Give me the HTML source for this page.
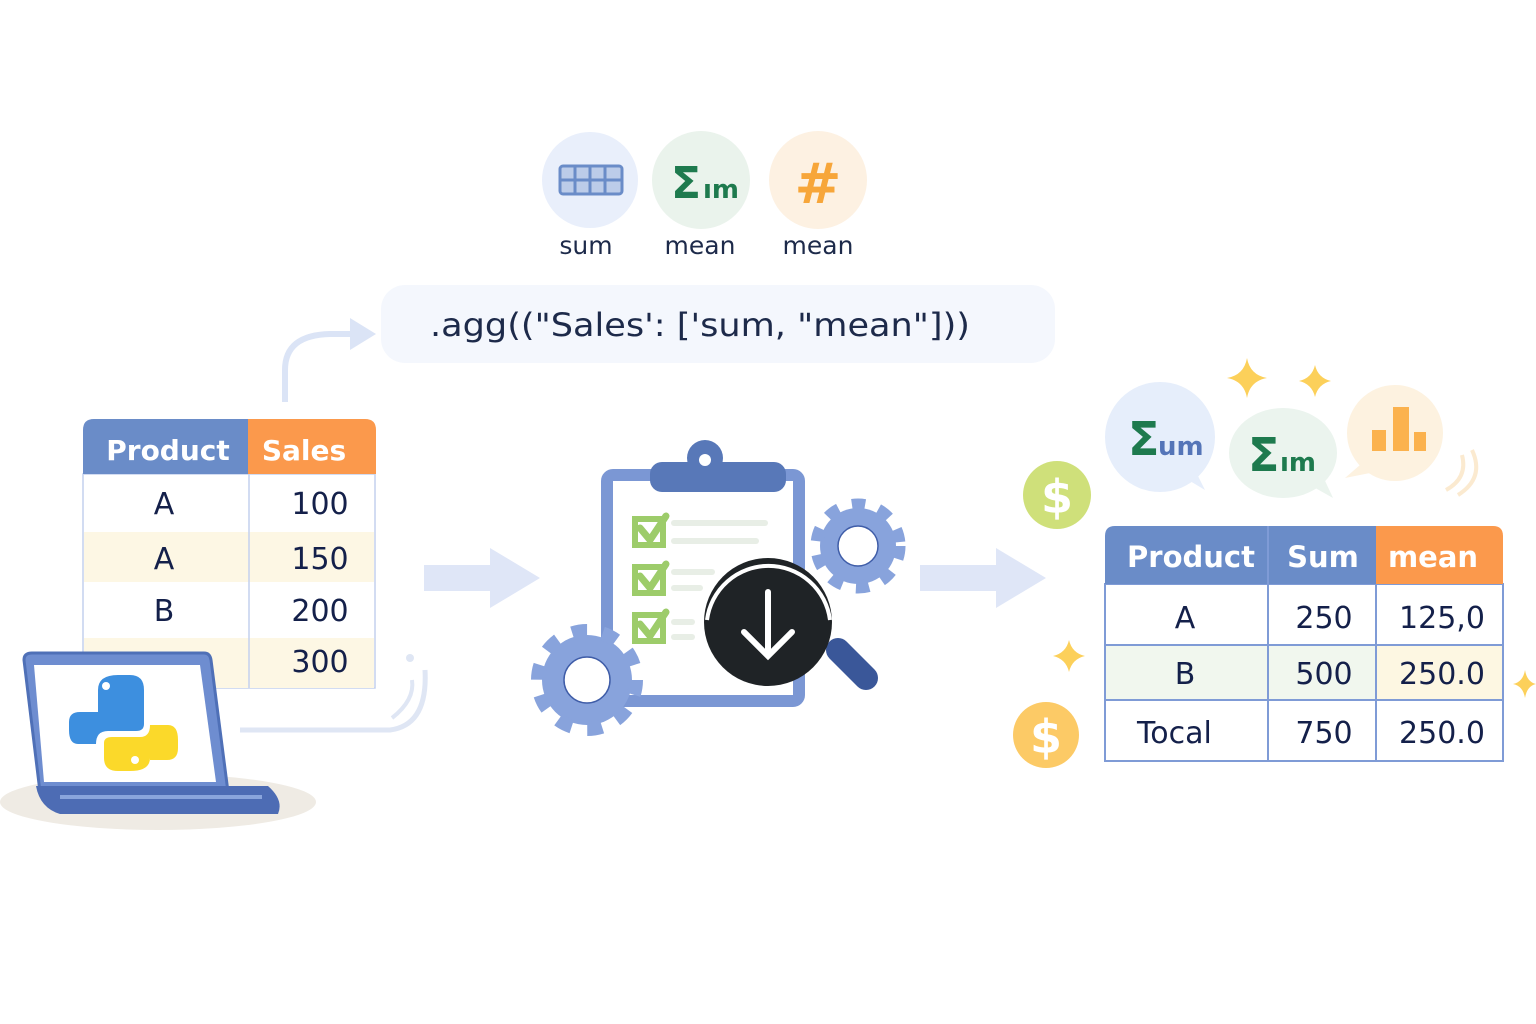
<!DOCTYPE html>
<html><head><meta charset="utf-8"><style>
html,body{margin:0;padding:0;background:#fff;}
svg{display:block;}
text{font-family:"DejaVu Sans","Liberation Sans",sans-serif;}
</style></head><body>
<svg width="1536" height="1024" viewBox="0 0 1536 1024" xmlns="http://www.w3.org/2000/svg">
<!-- top icons -->
<circle cx="590" cy="180" r="48" fill="#e9effb"/>
<rect x="560" y="166" width="62" height="28" rx="3" fill="none" stroke="#6a8cc8" stroke-width="3"/>
<g stroke="#6a8cc8" stroke-width="3"><line x1="575" y1="166" x2="575" y2="194"/><line x1="590" y1="166" x2="590" y2="194"/><line x1="605" y1="166" x2="605" y2="194"/><line x1="560" y1="180" x2="622" y2="180"/></g>
<rect x="561" y="167" width="60" height="26" fill="#6a8cc8" opacity="0.35"/>
<circle cx="701" cy="180" r="49" fill="#eaf3ec"/>
<text x="671" y="198" font-size="44" fill="#1e7a4e" font-weight="bold">Σ</text>
<text x="703" y="198" font-size="26" fill="#1e7a4e" font-weight="bold">ım</text>
<circle cx="818" cy="180" r="49" fill="#fdf1e2"/>
<text x="818" y="203" font-size="56" fill="#f7a63a" font-weight="bold" text-anchor="middle">#</text>
<text x="586" y="254" font-size="25" fill="#1d2a4a" text-anchor="middle">sum</text>
<text x="700" y="254" font-size="25" fill="#1d2a4a" text-anchor="middle">mean</text>
<text x="818" y="254" font-size="25" fill="#1d2a4a" text-anchor="middle">mean</text>
<!-- code box -->
<rect x="381" y="285" width="674" height="78" rx="24" fill="#f4f7fd"/>
<text x="430" y="336" font-size="32" fill="#1d2a4a" textLength="540" lengthAdjust="spacingAndGlyphs">.agg((&quot;Sales': ['sum, &quot;mean&quot;]))</text>
<path d="M285 402 V370 Q285 335 330 334 H352" fill="none" stroke="#dbe4f6" stroke-width="6"/>
<polygon points="350,318 376,334 350,350" fill="#dbe4f6"/>
<!-- left table -->
<rect x="83" y="474" width="292" height="214" fill="#fff" stroke="#c4d1ee" stroke-width="1.5"/>
<rect x="84" y="532" width="290" height="50" fill="#fdf7e4"/>
<rect x="84" y="638" width="290" height="50" fill="#fdf7e4"/>
<path d="M83 474 V430 Q83 419 94 419 H248 V474 Z" fill="#6a8cc8"/>
<path d="M248 419 H365 Q376 419 376 430 V474 H248 Z" fill="#fb994c"/>
<line x1="249" y1="474" x2="249" y2="688" stroke="#c4d1ee" stroke-width="1.5"/>
<text x="168" y="460" font-size="28" fill="#fff" font-weight="bold" text-anchor="middle">Product</text>
<text x="304" y="460" font-size="28" fill="#fff" font-weight="bold" text-anchor="middle">Sales</text>
<g font-size="30" fill="#14204a" text-anchor="middle">
<text x="164" y="514">A</text><text x="320" y="514">100</text>
<text x="164" y="569">A</text><text x="320" y="569">150</text>
<text x="164" y="621">B</text><text x="320" y="621">200</text>
<text x="320" y="672">300</text></g>
<!-- swoosh -->
<path d="M240 730 H390 Q428 725 425 670" fill="none" stroke="#dfe6f4" stroke-width="5"/>
<path d="M392 718 Q415 700 412 680" fill="none" stroke="#dfe6f4" stroke-width="4"/>
<circle cx="410" cy="658" r="4" fill="#dfe6f4"/>
<!-- laptop -->
<ellipse cx="158" cy="802" rx="158" ry="28" fill="#efebe4"/>
<path d="M24 660 Q24 653 32 653 H204 Q210 653 211 660 L228 792 H40 Z" fill="#6e8dd0" stroke="#4f70b7" stroke-width="3"/>
<path d="M34 665 H200 L216 782 H44 Z" fill="#fff"/>
<path d="M36 786 H268 Q284 800 278 814 H60 Q40 808 36 786 Z" fill="#4d6cb4"/>
<path d="M60 797 H262" stroke="#8aa5dc" stroke-width="4"/>
<!-- python logo -->
<path d="M98 712 V690 Q98 675 118 675 H130 Q144 675 144 690 V724 Q144 731 136 731 H108 Q96 731 96 744 H78 Q69 744 69 730 V722 Q69 712 80 712 Z" fill="#3d8fdf"/>
<circle cx="106" cy="686" r="4" fill="#fff"/>
<path d="M150 735 V758 Q150 771 130 771 H118 Q104 771 104 758 V743 Q104 737 112 737 H140 Q150 737 150 725 H168 Q178 725 178 740 V748 Q178 760 167 760 H150 Z" fill="#fbd92a"/>
<circle cx="135" cy="760" r="4" fill="#fff"/>
<!-- arrows -->
<rect x="424" y="565" width="68" height="26" fill="#dfe6f7"/>
<polygon points="490,548 540,578 490,608" fill="#dfe6f7"/>
<rect x="920" y="565" width="78" height="26" fill="#dfe6f7"/>
<polygon points="996,548 1046,578 996,608" fill="#dfe6f7"/>
<!-- clipboard -->
<rect x="607" y="475" width="192" height="226" rx="6" fill="#fff" stroke="#7b97d4" stroke-width="12"/>
<rect x="650" y="462" width="136" height="30" rx="12" fill="#5878b8"/>
<circle cx="705" cy="458" r="18" fill="#5878b8"/><circle cx="705" cy="460" r="6" fill="#fff"/>
<g fill="none" stroke="#9dcc6a" stroke-width="6"><rect x="635" y="519" width="28" height="26"/><rect x="635" y="567" width="28" height="26"/><rect x="635" y="615" width="28" height="26"/></g>
<g fill="none" stroke="#9dcc6a" stroke-width="7" stroke-linecap="round"><path d="M640 528 L650 540 L666 516"/><path d="M640 576 L650 588 L666 564"/><path d="M640 624 L650 636 L666 612"/></g>
<g stroke="#e8eee6" stroke-width="6" stroke-linecap="round"><line x1="674" y1="523" x2="765" y2="523"/><line x1="674" y1="541" x2="756" y2="541"/><line x1="674" y1="572" x2="712" y2="572"/><line x1="674" y1="588" x2="700" y2="588"/><line x1="674" y1="622" x2="692" y2="622"/><line x1="674" y1="637" x2="692" y2="637"/></g>
<!-- gears -->
<g fill="#88a3dc">
<circle cx="587" cy="680" r="45"/>
<circle cx="587" cy="680" r="49" fill="none" stroke="#88a3dc" stroke-width="14" stroke-dasharray="15 15.8"/>
</g>
<circle cx="587" cy="680" r="23" fill="#fff" stroke="#3f5da8" stroke-width="1.5"/>
<g fill="#88a3dc">
<circle cx="858" cy="546" r="38"/>
<circle cx="858" cy="546" r="41" fill="none" stroke="#88a3dc" stroke-width="13" stroke-dasharray="13 13.7"/>
</g>
<circle cx="858" cy="546" r="20" fill="#fff" stroke="#3f5da8" stroke-width="1.5"/>
<!-- magnifier -->
<line x1="838" y1="650" x2="866" y2="678" stroke="#3a5799" stroke-width="24" stroke-linecap="round"/>
<circle cx="768" cy="622" r="64" fill="#1f2326"/>
<path d="M707 620 A62 62 0 0 1 830 620" fill="none" stroke="#fff" stroke-width="4"/>
<g stroke="#fff" stroke-width="6" stroke-linecap="round" fill="none"><line x1="768" y1="592" x2="768" y2="655"/><path d="M744 632 L768 656 L792 632"/></g>
<!-- right bubbles -->
<circle cx="1160" cy="437" r="55" fill="#e6eefb"/><polygon points="1180,475 1205,490 1190,460" fill="#e6eefb"/>
<text x="1128" y="455" font-size="46" fill="#1e7a4e" font-weight="bold">Σ</text>
<text x="1158" y="455" font-size="26" fill="#5575b8" font-weight="bold">um</text>
<ellipse cx="1283" cy="453" rx="54" ry="45" fill="#ebf4ee"/><polygon points="1310,485 1333,498 1320,470" fill="#ebf4ee"/>
<text x="1248" y="471" font-size="46" fill="#1e7a4e" font-weight="bold">Σ</text>
<text x="1280" y="471" font-size="26" fill="#1e7a4e" font-weight="bold">ım</text>
<circle cx="1395" cy="433" r="48" fill="#fdf2e0"/><polygon points="1360,465 1345,478 1375,472" fill="#fdf2e0"/>
<g fill="#fbb24e"><rect x="1372" y="430" width="14" height="21"/><rect x="1393" y="407" width="16" height="44"/><rect x="1414" y="432" width="12" height="19"/></g>
<path d="M1446 490 Q1468 478 1462 455" fill="none" stroke="#fbead0" stroke-width="4"/>
<path d="M1458 495 Q1485 478 1472 450" fill="none" stroke="#fbead0" stroke-width="4"/>
<!-- sparkles -->
<g fill="#fcd05a">
<path d="M1247 358 Q1250 375 1267 378 Q1250 381 1247 398 Q1244 381 1227 378 Q1244 375 1247 358Z"/>
<path d="M1315 365 Q1318 378 1331 381 Q1318 384 1315 397 Q1312 384 1299 381 Q1312 378 1315 365Z"/>
<path d="M1069 640 Q1072 653 1085 656 Q1072 659 1069 672 Q1066 659 1053 656 Q1066 653 1069 640Z"/>
<path d="M1525 670 Q1527 682 1536 684 Q1527 686 1525 698 Q1523 686 1513 684 Q1523 682 1525 670Z"/>
</g>
<circle cx="1057" cy="495" r="34" fill="#cfe07a"/>
<text x="1057" y="513" font-size="46" fill="#fff" font-weight="bold" text-anchor="middle">$</text>
<circle cx="1046" cy="735" r="33" fill="#fcca66"/>
<text x="1046" y="753" font-size="46" fill="#fff" font-weight="bold" text-anchor="middle">$</text>
<!-- right table -->
<rect x="1105" y="584" width="398" height="177" fill="#fff" stroke="#7f9bd6" stroke-width="2"/>
<rect x="1106" y="645" width="270" height="54" fill="#f1f7ee"/>
<rect x="1376" y="645" width="126" height="54" fill="#fdf7e2"/>
<path d="M1105 584 V536 Q1105 526 1115 526 H1376 V584 Z" fill="#6a8cc8"/>
<path d="M1376 526 H1493 Q1503 526 1503 536 V584 H1376 Z" fill="#fb994c"/>
<g stroke="#7f9bd6" stroke-width="2"><line x1="1268" y1="526" x2="1268" y2="761"/><line x1="1376" y1="584" x2="1376" y2="761"/><line x1="1105" y1="645" x2="1503" y2="645"/><line x1="1105" y1="700" x2="1503" y2="700"/></g>
<text x="1191" y="567" font-size="29" fill="#fff" font-weight="bold" text-anchor="middle">Product</text>
<text x="1323" y="567" font-size="29" fill="#fff" font-weight="bold" text-anchor="middle">Sum</text>
<text x="1433" y="567" font-size="29" fill="#fff" font-weight="bold" text-anchor="middle">mean</text>
<g font-size="30" fill="#14204a">
<text x="1185" y="628" text-anchor="middle">A</text><text x="1324" y="628" text-anchor="middle">250</text><text x="1442" y="628" text-anchor="middle">125,0</text>
<text x="1185" y="684" text-anchor="middle">B</text><text x="1324" y="684" text-anchor="middle">500</text><text x="1442" y="684" text-anchor="middle">250.0</text>
<text x="1137" y="743">Tocal</text><text x="1324" y="743" text-anchor="middle">750</text><text x="1442" y="743" text-anchor="middle">250.0</text>
</g>
</svg>
</body></html>
